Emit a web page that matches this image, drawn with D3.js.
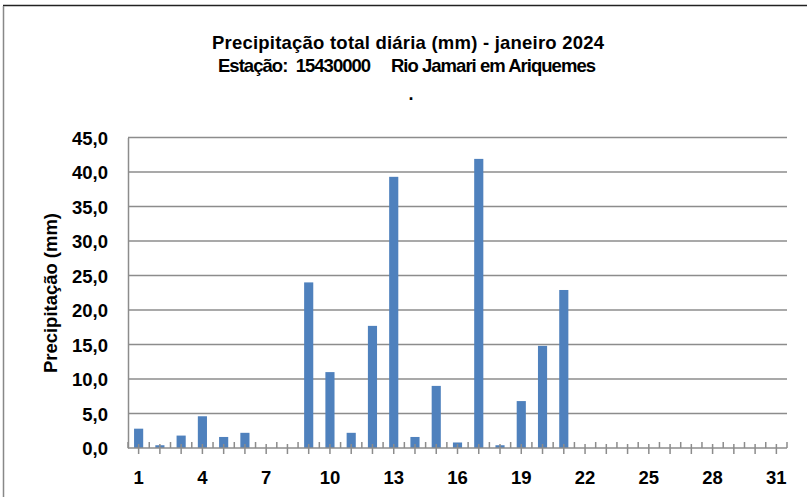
<!DOCTYPE html>
<html>
<head>
<meta charset="utf-8">
<script src="https://d3js.org/d3.v7.min.js"></script>
<style>
  body { margin: 0; background: #fff; }
  text { font-family: "Liberation Sans", Arial, sans-serif; font-weight: bold; fill: #000; }
</style>
</head>
<body>
<div id="chart"></div>
<script>
// dias de janeiro 2024 e precipitação diária (mm)
var days = d3.range(1, 32);
var rain = [2.8, 0.4, 1.8, 4.6, 1.6, 2.2, 0, 0, 24.0, 11.0,
            2.2, 17.7, 39.3, 1.6, 9.0, 0.8, 41.9, 0.4, 6.8, 14.8,
            22.9, 0, 0, 0, 0, 0, 0, 0, 0, 0, 0];
var yTicks = [0, 5, 10, 15, 20, 25, 30, 35, 40, 45];
var xLabels = [1, 4, 7, 10, 13, 16, 19, 22, 25, 28, 31];
var titleLines = ["Precipitação total diária (mm) - janeiro 2024",
                  "Estação:  15430000     Rio Jamari em Ariquemes", "."];

var W = 807, H = 497;
var margin = {top: 137.5, right: 20, bottom: 49, left: 128};
var width = W - margin.left - margin.right,
    height = H - margin.top - margin.bottom;

var svg = d3.select("#chart").append("svg")
    .attr("width", W).attr("height", H);

// moldura do gráfico
svg.append("line").attr("x1", 3).attr("x2", W).attr("y1", 5.5).attr("y2", 5.5)
   .attr("stroke", "#222").attr("stroke-width", 1.5);
svg.append("line").attr("x1", 3.5).attr("x2", 3.5).attr("y1", 6).attr("y2", H)
   .attr("stroke", "#888").attr("stroke-width", 1.5);

// títulos
svg.append("text").attr("x", 408).attr("y", 49).attr("text-anchor", "middle")
   .style("font-size", "18.5px").attr("textLength", 392).attr("lengthAdjust", "spacing")
   .text(titleLines[0]);
svg.append("text").attr("x", 407).attr("y", 72).attr("text-anchor", "middle")
   .style("font-size", "18.5px").attr("xml:space", "preserve")
   .attr("textLength", 378).attr("lengthAdjust", "spacing")
   .text(titleLines[1]);
svg.append("text").attr("x", 411).attr("y", 100).attr("text-anchor", "middle")
   .style("font-size", "18px").text(titleLines[2]);

var g = svg.append("g").attr("transform", "translate(" + margin.left + "," + margin.top + ")");

var x = d3.scaleBand().domain(days).range([0, width]).paddingInner(0.57).paddingOuter(0.285);
var y = d3.scaleLinear().domain([0, 45]).range([height, 0]);

// linhas de grade
g.selectAll(".grid").data(yTicks.slice(1)).enter().append("line")
  .attr("x1", 0).attr("x2", width)
  .attr("y1", d => y(d)).attr("y2", d => y(d))
  .attr("stroke", "#8c8c8c").attr("stroke-width", 1.5);

// eixo y
var yAxis = g.append("g").call(d3.axisLeft(y).tickValues(yTicks).tickSize(0).tickPadding(20)
    .tickFormat(d => d3.format(".1f")(d).replace(".", ",")));
yAxis.select(".domain").attr("stroke", "#8c8c8c").attr("stroke-width", 1.5);
yAxis.selectAll("text").style("font-size", "18.5px").style("font-family", "'Liberation Sans', Arial, sans-serif")
  .attr("dy", "0.36em");

// barras
g.selectAll(".bar").data(rain).enter().append("rect")
  .attr("x", (d, i) => x(days[i]))
  .attr("width", x.bandwidth())
  .attr("y", d => y(d))
  .attr("height", d => height - y(d))
  .attr("fill", "#4f81bd");

// eixo x
var step = x.step();
var xa = g.append("g").attr("transform", "translate(0," + height + ")");
xa.append("line").attr("x1", 0).attr("x2", width).attr("stroke", "#8c8c8c").attr("stroke-width", 1.5);
xa.selectAll(".bt").data(d3.range(0, days.length + 1)).enter().append("line")
  .attr("x1", i => i * step).attr("x2", i => i * step)
  .attr("y1", -6).attr("y2", 0)
  .attr("stroke", "#8c8c8c").attr("stroke-width", 1.5);
xa.selectAll(".ct").data(days).enter().append("line")
  .attr("x1", d => x(d) + x.bandwidth() / 2).attr("x2", d => x(d) + x.bandwidth() / 2)
  .attr("y1", -4).attr("y2", 6)
  .attr("stroke", "#8c8c8c").attr("stroke-width", 1.5);
xa.selectAll(".xl").data(xLabels).enter().append("text")
  .attr("x", d => x(d) + x.bandwidth() / 2).attr("y", 36)
  .attr("text-anchor", "middle").style("font-size", "18.5px")
  .text(d => d);

// título do eixo y
svg.append("text")
  .attr("transform", "translate(57," + 293 + ") rotate(-90)")
  .attr("text-anchor", "middle").style("font-size", "18.5px")
  .attr("textLength", 160).attr("lengthAdjust", "spacing")
  .text("Precipitação (mm)");
</script>
</body>
</html>
